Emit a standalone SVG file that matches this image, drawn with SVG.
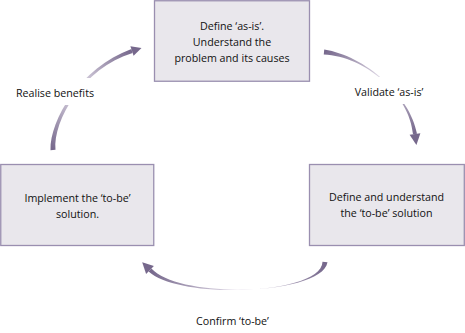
<svg xmlns="http://www.w3.org/2000/svg" width="465" height="333" viewBox="0 0 465 333">
  <style>
    .box { fill: #E9E7EC; stroke: #9A8FB0; stroke-width: 1.3; }
    .t { font-family: "Open Sans", "Liberation Sans", sans-serif; font-size: 10.7px; fill: #111; text-anchor: middle; }
    .head { fill: #76688C; }
    .bg { fill: #FFFFFF; }
  </style>
  <defs>
    <linearGradient id="gC" gradientUnits="userSpaceOnUse" x1="53" y1="150" x2="132" y2="51">
      <stop offset="0" stop-color="#76688C"/>
      <stop offset="0.5" stop-color="#E4DEEA"/>
      <stop offset="1" stop-color="#76688C"/>
    </linearGradient>
    <linearGradient id="gB" gradientUnits="userSpaceOnUse" x1="324" y1="52" x2="415" y2="134">
      <stop offset="0" stop-color="#76688C"/>
      <stop offset="0.5" stop-color="#E4DEEA"/>
      <stop offset="1" stop-color="#76688C"/>
    </linearGradient>
    <linearGradient id="gA" gradientUnits="userSpaceOnUse" x1="325" y1="262" x2="150" y2="270">
      <stop offset="0" stop-color="#76688C"/>
      <stop offset="0.5" stop-color="#E8E2EE"/>
      <stop offset="1" stop-color="#76688C"/>
    </linearGradient>
  </defs>

  <g id="connectors">
    <g id="arc-realise">
      <path fill="url(#gC)" d="M55.5,149.8 C53,120 83,68 132.6,52.9 L131.4,49.1 C80,68 50,120 50.5,150.2 Z"/>
      <polygon class="head" points="141.5,47.9 133.6,55.8 130.4,46.2"/>
    </g>
    <g id="arc-validate">
      <path fill="url(#gB)" d="M324.25,49.5 C365,56 410,95 417,133.7 L413,134.3 C410,95 365,56 323.75,54.5 Z"/>
      <polygon class="head" points="416.4,144.9 420.4,133.3 409.6,134.7"/>
    </g>
    <g id="arc-confirm">
      <path fill="url(#gA)" d="M327.5,262.2 C322,295 180,300 151.4,268.6 L148.6,271.4 C180,300 322,295 322.5,261.8 Z"/>
      <polygon class="head" points="142.2,262.2 153.9,266.1 146.1,273.9"/>
    </g>
  </g>

  <g id="label-realise">
    <rect class="bg" x="10" y="78" width="90" height="27"/>
    <text class="t" x="55" y="97">Realise benefits</text>
  </g>
  <g id="label-validate">
    <rect class="bg" x="345" y="77" width="88" height="27"/>
    <text class="t" x="389" y="96">Validate ‘as-is’</text>
  </g>
  <g id="label-confirm">
    <text class="t" x="232.5" y="325">Confirm ‘to-be’</text>
  </g>

  <g id="node-asis">
    <rect class="box" x="154.5" y="0.75" width="155" height="80.5"/>
    <text class="t" x="232" y="30">Define ‘as-is’.</text>
    <text class="t" x="232" y="46">Understand the</text>
    <text class="t" x="232" y="62">problem and its causes</text>
  </g>
  <g id="node-tobe">
    <rect class="box" x="309.5" y="164.5" width="154.8" height="81"/>
    <text class="t" x="386.5" y="201">Define and understand</text>
    <text class="t" x="386.5" y="217">the ‘to-be’ solution</text>
  </g>
  <g id="node-implement">
    <rect class="box" x="0.75" y="164.5" width="153" height="81"/>
    <text class="t" x="77.5" y="202">Implement the ‘to-be’</text>
    <text class="t" x="77.5" y="218">solution.</text>
  </g>
</svg>
